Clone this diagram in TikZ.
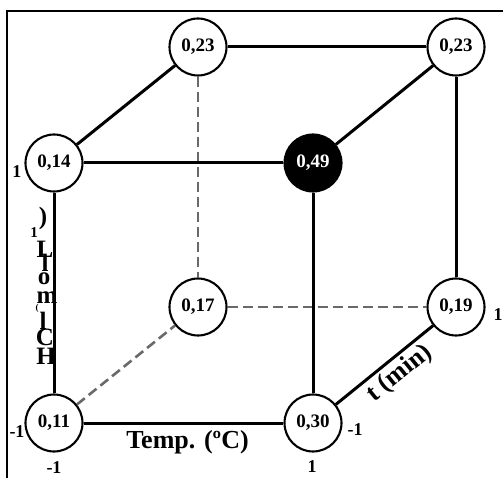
\documentclass[tikz,border=0pt]{standalone}
\usepackage{fontspec}
\setmainfont{Liberation Serif}
\usetikzlibrary{positioning}
\definecolor{hidgray}{RGB}{105,105,105}

\begin{document}
\begin{tikzpicture}[x=1pt,y=-1pt,on grid,
    pt/.style={circle,draw,line width=2.1pt,fill=white,minimum size=57pt,inner sep=0pt,
      font=\fontsize{19}{19}\selectfont\bfseries},
    best/.style={pt,fill=black,text=white},
    lev/.style={font=\fontsize{18}{18}\selectfont\bfseries,inner sep=0pt},
    axlab/.style={font=\fontsize{26}{26}\selectfont\bfseries,inner sep=0pt},
    stack/.style={font=\fontsize{25}{25}\selectfont\bfseries,inner sep=0pt},
    edge/.style={line width=3pt},
    hidden/.style={line width=2.6pt,hidgray,dash pattern=on 10pt off 5pt}]
        \useasboundingbox (0,0) rectangle (503,478);
        % frame %
        \draw[line width=1.4pt] (7,478) -- (7,11) -- (503,11);
        % HCl axis, letters stacked %
        \foreach \c/\xx/\yy in {)/43/218, L/45/249, l/45/263, o/44/279, m/47/298, l/43/321, C/45/337, H/46/356}
          \node[stack] at (\xx,\yy) {\c};
        \node[lev,font=\fontsize{15}{15}\selectfont\bfseries] (hclone) at (34,233) {1};
        \node[lev,font=\fontsize{9}{9}\selectfont\bfseries] (hclpar) at (37,308) {(};
        % nodes %
        \node[pt] (fbl) at (54,423) {0,11};
        \node[pt, right=259pt of fbl] (fbr) {0,30};
        \node[pt, above=260pt of fbl] (ftl) {0,14};
        \node[best, right=259pt of ftl] (ftr) {0,49};
        \node[pt, above right=116pt and 144pt of fbl] (bbl) {0,17};
        \node[pt, right=258pt of bbl] (bbr) {0,19};
        \node[pt, above=260pt of bbl] (btl) {0,23};
        \node[pt, right=258pt of btl] (btr) {0,23};
        % levels %
        \node[lev] (l1) at (17,172) {1};
        \node[lev] (l2) at (17,432) {-1};
        \node[lev] (l3) at (54,468) {-1};
        \node[lev] (l4) at (312,467) {1};
        \node[lev] (l5) at (355,430) {-1};
        \node[lev] (l6) at (498,315) {1};
        % hidden edges %
        \draw[hidden] (btl) -- (bbl);
        \draw[hidden] (bbl) -- (bbr);
        \draw[hidden] (fbl) -- (bbl);
        % edges %
        \draw[edge] (btl) -- (btr);
        \draw[edge] (btl) -- (ftl);
        \draw[edge] (btr) -- (ftr);
        \draw[edge] (btr) -- (bbr);
        \draw[edge] (ftl) -- (ftr);
        \draw[edge] (ftl) -- (fbl);
        \draw[edge] (ftr) -- (fbr);
        \draw[edge] (fbl) -- node[axlab, pos=0.52, below=6pt] {Temp. (ºC)} (fbr);
        \draw[edge] (fbr) -- node[axlab, pos=0.55, sloped, below=3pt] {t (min)} (bbr);
\end{tikzpicture}
\end{document}
